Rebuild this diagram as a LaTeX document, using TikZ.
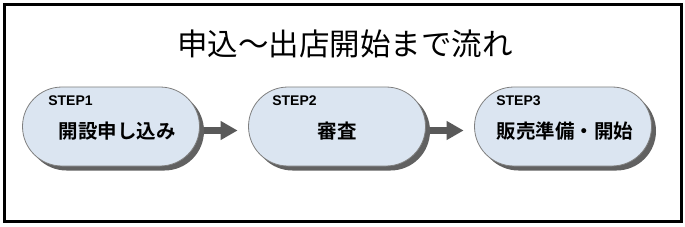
\documentclass[tikz,border=0pt]{standalone}
\usepackage{fontspec}
\usepackage{xcolor}
\newfontfamily\jpreg{Noto Sans CJK JP}
\newfontfamily\jpbold{Noto Sans CJK JP Bold}
\newfontfamily\labfont{Liberation Sans}
\usetikzlibrary{arrows.meta,positioning,shapes.misc,shadows}
\definecolor{pillblue}{HTML}{DBE5F1}
\definecolor{pillline}{HTML}{7F7F7F}
\definecolor{arrgray}{HTML}{595959}

\begin{document}
\begin{tikzpicture}[x=1pt,y=-1pt,
  stepbox/.style={rounded rectangle,draw=pillline,line width=0.8pt,fill=pillblue,
    minimum width=177pt,minimum height=79pt,inner sep=0pt,
    drop shadow={shadow xshift=4.5pt,shadow yshift=-4.5pt,fill=black!62,opacity=1}},
  steptext/.style={font=\jpbold\fontsize{19.5}{22}\selectfont},
  steplbl/.style={anchor=base west,inner sep=0pt,font=\labfont\bfseries\fontsize{14}{16}\selectfont},
  arr/.style={-{Triangle[length=17pt,width=18pt]},line width=7pt,arrgray,shorten <=4.5pt,shorten >=10.5pt}]
\useasboundingbox (0,0) rectangle (685,227);
\draw[line width=3pt] (4.5,4.5) rectangle (681,221.5);
\node[font=\jpreg\fontsize{30.5}{32}\selectfont] (title) at (345,44) {申込～出店開始まで流れ};
% three steps
\node[stepbox] (b1) at (111,126.5) {};
\node[stepbox] (b2) at (337,126.5) {};
\node[stepbox] (b3) at (563,126.5) {};
\node[steplbl] (s1) at ([xshift=26pt,yshift=20.5pt]b1.west) {STEP1};
\node[steplbl] (s2) at ([xshift=24pt,yshift=20.5pt]b2.west) {STEP2};
\node[steplbl] (s3) at ([xshift=22pt,yshift=20.5pt]b3.west) {STEP3};
\node[steptext] (t1) at ([xshift=6pt,yshift=-4.5pt]b1.center) {開設申し込み};
\node[steptext] (t2) at ([yshift=-4.5pt]b2.center) {審査};
\node[steptext] (t3) at ([xshift=2pt,yshift=-4.5pt]b3.center) {販売準備・開始};
\draw[arr] ([yshift=-4pt]b1.east) -- ([yshift=-4pt]b2.west);
\draw[arr] ([yshift=-4pt]b2.east) -- ([yshift=-4pt]b3.west);
\end{tikzpicture}
\end{document}
